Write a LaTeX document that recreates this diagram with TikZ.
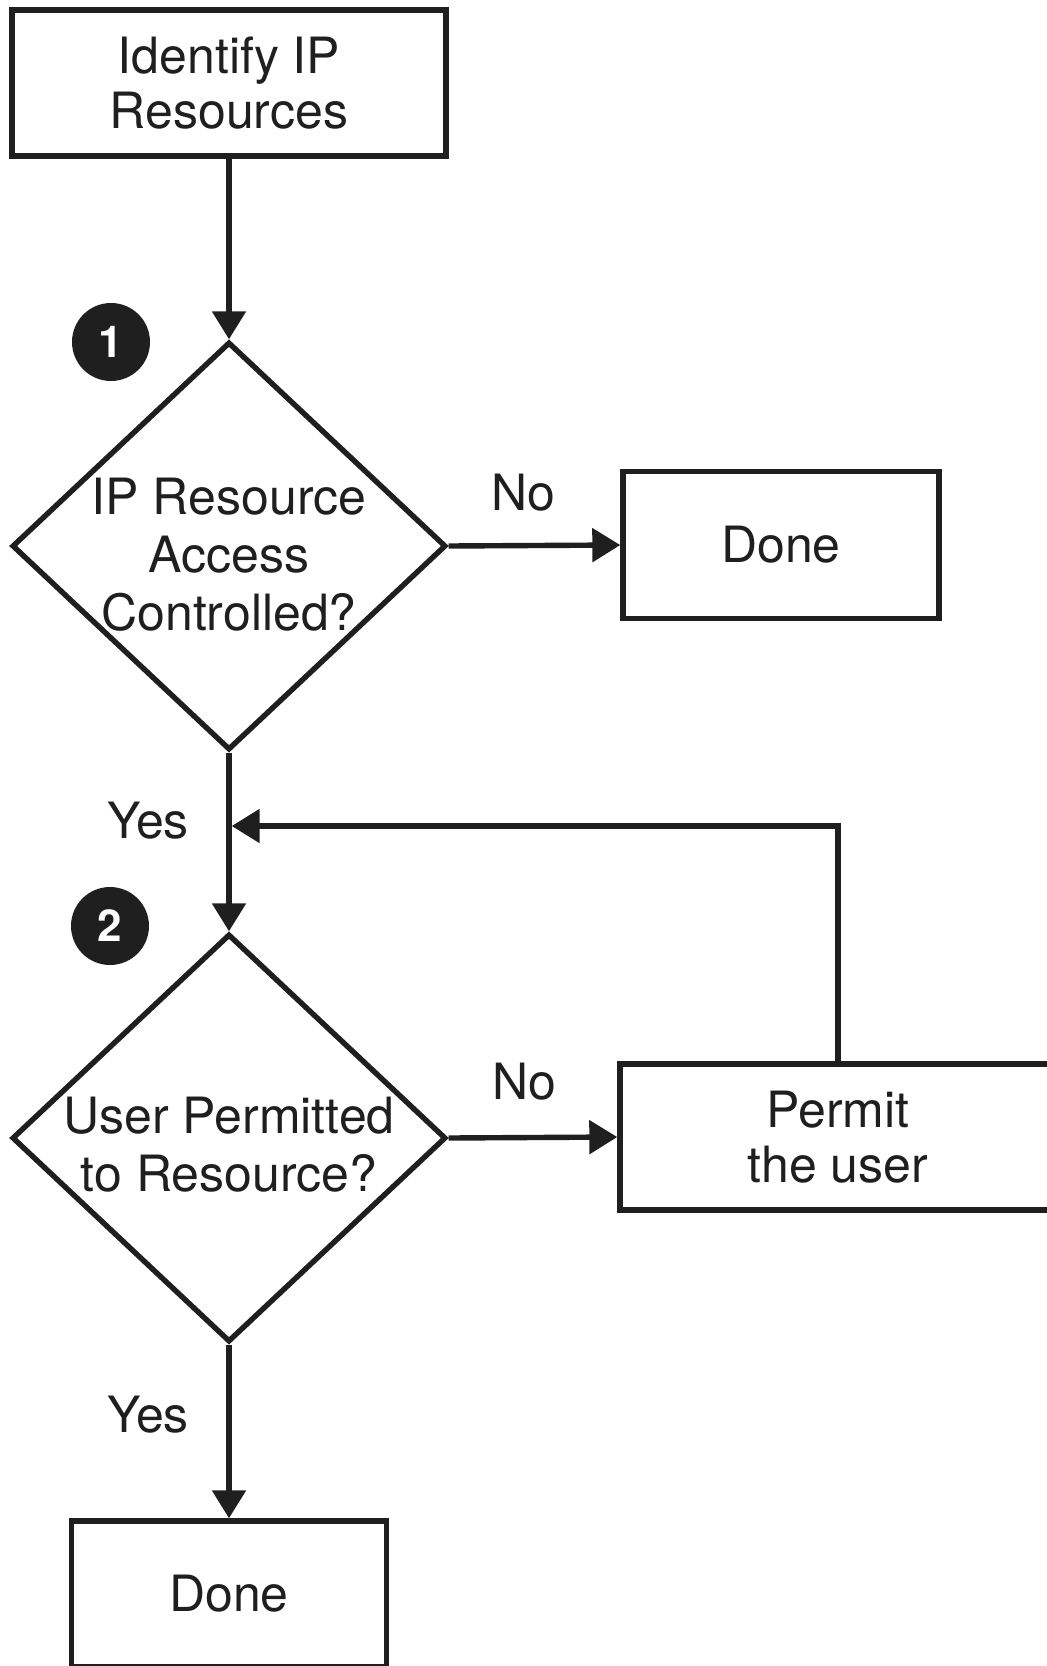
\documentclass[tikz,border=0pt]{standalone}
\usepackage{fontspec}
\setmainfont{TeX Gyre Heros}
\usetikzlibrary{shapes.geometric,arrows.meta}

\begin{document}
\begin{tikzpicture}[
        >={Triangle[length=14pt,width=16.5pt]},
        line width=2.7pt, color=black!88,
        every node/.style={font=\fontsize{25}{27.5}\selectfont},
        stepbox/.style={draw,rectangle,inner sep=0pt,align=center},
        test/.style={draw,diamond,inner sep=0pt,minimum width=217pt,minimum height=204pt},
        testtext/.style={inner sep=0pt,align=center,font=\fontsize{25}{29}\selectfont},
        badge/.style={circle,fill=black!88,text=white,inner sep=0pt,minimum size=39pt,font=\fontsize{22}{22}\selectfont\bfseries},
        lbl/.style={inner sep=0pt}
    ]
        \useasboundingbox (0,0) rectangle (523.5pt,-833pt);
        % boxes and decisions
        \node[stepbox,minimum width=217pt,minimum height=73pt] (ident) at (114.5pt,-41.5pt) {Identify IP\\Resources};
        \node[test] (q1) at (114.5pt,-273pt) {};
        \node[testtext] (q1text) at ([yshift=-4.5pt]q1.center) {IP Resource\\Access\\Controlled?};
        \node[stepbox,minimum width=158pt,minimum height=73.5pt] (done1) at (390.5pt,-272.5pt) {Done};
        \node[test] (q2) at (114.5pt,-569pt) {};
        \node[testtext] (q2text) at ([yshift=-3.2pt]q2.center) {User Permitted\\to Resource?};
        \node[stepbox,minimum width=218pt,minimum height=73pt] (permit) at (419pt,-568.5pt) {Permit\\the user};
        \node[stepbox,minimum width=157.5pt,minimum height=73pt] (done2) at (114.5pt,-797pt) {Done};
        % step markers
        \node[badge] (b1) at (55.5pt,-171pt) {1};
        \node[badge] (b2) at (55pt,-463pt) {2};
        % branch labels
        \node[lbl] (no1) at (261.5pt,-246.5pt) {No};
        \node[lbl] (no2) at (262pt,-541pt) {No};
        \node[lbl] (yes1) at (74pt,-410.5pt) {Yes};
        \node[lbl] (yes2) at (74pt,-707.5pt) {Yes};
        % connectors
        \coordinate (back) at (114.5pt,-413pt);
        \draw[->] (ident.south) -- (q1.north);
        \draw[->] (q1.east) -- (done1.west);
        \draw[->] (q1.south) -- (q2.north);
        \draw[->] (q2.east) -- (permit.west);
        \draw[->] (q2.south) -- (done2.north);
        \draw[->,shorten >=1.35pt] (permit.north) |- (back);
    \end{tikzpicture}
\end{document}
